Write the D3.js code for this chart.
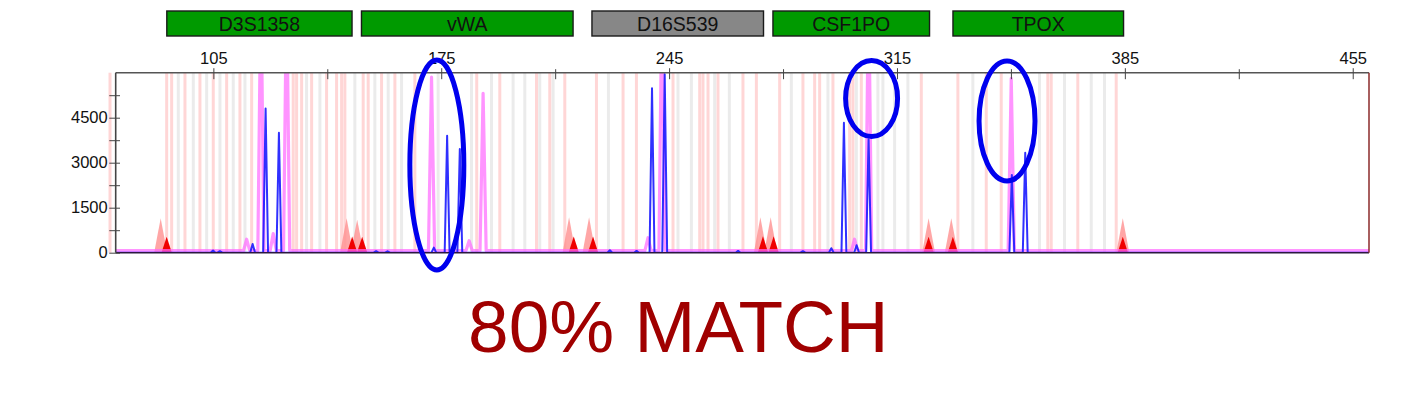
<!DOCTYPE html>
<html><head><meta charset="utf-8">
<script src="https://cdn.jsdelivr.net/npm/d3@7"></script>
<style>body{margin:0;background:#fff}svg{display:block}</style>
</head><body>
<svg id="c" width="1401" height="414"></svg>
<script>
// ---------------- DATA ----------------
const markerNames  = ["D3S1358", "vWA", "D16S539", "CSF1PO", "TPOX"];
const markerStart  = [90.7, 150.5, 221.3, 276.9, 332.2];
const markerEnd    = [147.6, 215.5, 274.0, 325.0, 384.6];
const markerStatus = ["pass", "pass", "check", "pass", "pass"];

const xTickLabels = [105, 175, 245, 315, 385, 455];
const xMinorTicks = [140, 210, 280, 350, 420];
const yTickLabels = [0, 1500, 3000, 4500];
const yMinorTicks = [750, 2250, 3750, 5250];

// allele bins (bp)
const pinkBins = [73.25, 90.66, 92.19, 96.28, 100.88, 104.97, 109.08, 113.16, 116.76, 129.53, 130.57,
  132.11, 135.18, 139.78, 142.85, 144.39, 145.4, 151.02, 152.56, 156.67, 160.76, 166.9, 185.9, 192.99,
  204.26, 208.34, 212.95, 222.68, 230.85, 234.96, 246.2, 254.4, 255.41, 256.95, 260.02, 267.69, 271.81,
  278.96, 286.11, 289.71, 291.24, 295.33, 300.45, 301.47, 304.05, 322.47, 333.71, 342.43, 347.03,
  361.34, 362.38, 370.55, 382.34];
const grayBins = [94.22, 98.83, 102.94, 107.02, 111.11, 114.7, 133.64, 137.73, 148.47, 154.61, 158.7,
  162.81, 174.05, 184.3, 190.44, 197.07, 200.67, 205.27, 209.36, 226.36, 247.74, 251.85, 259.0, 263.5,
  282.55, 293.79, 302.51, 309.14, 310.68, 314.27, 318.35, 338.31, 358.79, 366.47, 374.67, 378.75];

// sample trace (blue)
const bluePeakBp  = [104.9, 107.0, 117.06, 121.05, 125.14, 155.0, 158.5, 172.73, 176.81, 180.71,
  226.8, 235.0, 239.75, 243.65, 266.2, 286.1, 294.83, 298.7, 302.6, 306.28, 350.29, 354.4];
const bluePeakRfu = [70, 50, 290, 4810, 4000, 50, 45, 170, 3900, 3460,
  80, 60, 5480, 5950, 60, 50, 150, 4330, 250, 3780, 2590, 3330];

// reference trace (magenta)
const magPeakBp  = [115.22, 119.61, 123.39, 127.5, 172.02, 183.57, 187.86, 238.52, 242.82, 301.96, 306.28, 350.1];
const magPeakRfu = [450, 9000, 640, 9000, 5850, 400, 5310, 500, 9000, 450, 9000, 5810];

// ladder / size standard
const stdBp   = [88.82, 145.93, 149.18, 214.27, 220.41, 273.04, 276.2, 324.71, 331.68, 384.37];
const stdRfu  = [1150, 1150, 1100, 1180, 1180, 1180, 1180, 1150, 1150, 1150];
const ladBp   = [90.66, 147.64, 150.71, 215.71, 221.64, 273.83, 277.11, 324.71, 332.17, 384.37];
const ladRfu  = [530, 540, 530, 540, 540, 550, 550, 530, 530, 530];

// annotation ellipses (bp, rfu)
const annotBp   = [173.65, 307.2, 348.81];
const annotRfu  = [2923, 5140, 4390];
const annotRBp  = [8.29, 7.98, 8.6];
const annotRRfu = [3500, 1267, 2000];

const matchText = "80% MATCH";

// ---------------- CHART ----------------
const svg = d3.select("#c");
const font = "'Liberation Sans', Arial, Helvetica, sans-serif";
const x = d3.scaleLinear().domain([75, 460]).range([115.7, 1369]);
const y = d3.scaleLinear().domain([0, 6000]).range([252.7, 72.7]);
const [x0, x1] = x.range(), [yb, yt] = y.range();

svg.append("defs").append("clipPath").attr("id", "plot")
  .append("rect").attr("x", x0).attr("y", yt).attr("width", x1 - x0).attr("height", yb - yt);

// bins
const binG = svg.append("g");
binG.selectAll(".gb").data(grayBins).join("line")
  .attr("x1", d => x(d)).attr("x2", d => x(d)).attr("y1", yt).attr("y2", yb)
  .attr("stroke", "#ebebeb").attr("stroke-width", 3);
binG.selectAll(".pb").data(pinkBins).join("line")
  .attr("x1", d => x(d)).attr("x2", d => x(d)).attr("y1", yt).attr("y2", yb)
  .attr("stroke", "#ffd0d0").attr("stroke-width", 3).attr("opacity", 0.85);

const plot = svg.append("g").attr("clip-path", "url(#plot)");
const line = d3.line().x(d => x(d[0])).y(d => y(d[1]));

function tri(p, h, hw) { return [[p - hw, 0], [p, h], [p + hw, 0]]; }

// size standard triangles
plot.selectAll(".std").data(d3.range(stdBp.length)).join("path")
  .attr("d", i => line(tri(stdBp[i], stdRfu[i], 2.0)) + "Z")
  .attr("fill", "#ff9090").attr("opacity", 0.8);
plot.selectAll(".lad").data(d3.range(ladBp.length)).join("path")
  .attr("d", i => line(tri(ladBp[i], ladRfu[i], 1.6)) + "Z")
  .attr("fill", "#f00000");

function tracePts(bp, rfu, hw, base) {
  const idx = d3.range(bp.length).sort((a, b) => bp[a] - bp[b]);
  const pts = [[75, base]];
  idx.forEach(i => { pts.push([bp[i] - hw, base], [bp[i], rfu[i]], [bp[i] + hw, base]); });
  pts.push([460, base]);
  return pts;
}

// magenta trace
plot.append("path").attr("d", line(tracePts(magPeakBp, magPeakRfu, 0.95, 70)))
  .attr("fill", "none").attr("stroke", "#ff66ff").attr("stroke-width", 3.2)
  .attr("stroke-linejoin", "round").attr("opacity", 0.7);

// blue trace
plot.append("path").attr("d", line(tracePts(bluePeakBp, bluePeakRfu, 0.75, 0)))
  .attr("fill", "none").attr("stroke", "#1a1aff").attr("stroke-width", 2)
  .attr("stroke-linejoin", "round").attr("opacity", 0.9);

// baseline
svg.append("line").attr("x1", x0).attr("x2", x1).attr("y1", yb).attr("y2", yb)
  .attr("stroke", "#2b1840").attr("stroke-width", 1.6);

// frame
svg.append("line").attr("x1", x0).attr("x2", x1).attr("y1", yt).attr("y2", yt)
  .attr("stroke", "#555").attr("stroke-width", 1.6);
svg.append("line").attr("x1", x0).attr("x2", x0).attr("y1", yt).attr("y2", yb)
  .attr("stroke", "#444").attr("stroke-width", 1.6);
svg.append("line").attr("x1", x1).attr("x2", x1).attr("y1", yt).attr("y2", yb)
  .attr("stroke", "#8b2a2a").attr("stroke-width", 1.5);

// x axis (top)
const xa = svg.append("g").attr("transform", `translate(0,${yt})`)
  .call(d3.axisTop(x).tickValues(xTickLabels).tickFormat(d3.format("d")).tickSize(4.5).tickPadding(4.2).tickSizeOuter(0));
const xm = svg.append("g").attr("transform", `translate(0,${yt})`)
  .call(d3.axisTop(x).tickValues(xMinorTicks).tickSize(3.5).tickFormat("").tickSizeOuter(0));
[xa, xm].forEach(g => {
  g.select(".domain").remove();
  g.selectAll("line").attr("y1", 6.5).attr("stroke", "#444");
});
xa.attr("font-size", 16.5).attr("font-family", font);
xa.selectAll("text").attr("fill", "#111");

// y axis
const ya = svg.append("g").attr("transform", `translate(${x0},0)`)
  .call(d3.axisLeft(y).tickValues(yTickLabels).tickFormat(d3.format("d")).tickSize(6.4).tickPadding(1.6).tickSizeOuter(0));
const ym = svg.append("g").attr("transform", `translate(${x0},0)`)
  .call(d3.axisLeft(y).tickValues(yMinorTicks).tickSize(6.4).tickFormat("").tickSizeOuter(0));
[ya, ym].forEach(g => {
  g.select(".domain").remove();
  g.selectAll("line").attr("x1", 4.3).attr("stroke", "#444");
});
ya.attr("font-size", 16.5).attr("font-family", font);
ya.selectAll("text").attr("fill", "#111");

// marker boxes
const mg = svg.append("g");
const mIdx = d3.range(markerNames.length);
mg.selectAll("rect").data(mIdx).join("rect")
  .attr("x", i => x(markerStart[i])).attr("width", i => x(markerEnd[i]) - x(markerStart[i]))
  .attr("y", 11).attr("height", 25)
  .attr("fill", i => markerStatus[i] === "pass" ? "#009a00" : "#878787")
  .attr("stroke", "#1a1a1a").attr("stroke-width", 1.4);
mg.selectAll("text").data(mIdx).join("text")
  .attr("x", i => (x(markerStart[i]) + x(markerEnd[i])) / 2).attr("y", 31.2)
  .attr("text-anchor", "middle").attr("font-family", font).attr("font-size", 19.5)
  .attr("fill", "#111").text(i => markerNames[i]);

// annotation ellipses
svg.selectAll(".ann").data(d3.range(annotBp.length)).join("ellipse")
  .attr("cx", i => x(annotBp[i])).attr("cy", i => y(annotRfu[i]))
  .attr("rx", i => x(annotBp[i] + annotRBp[i]) - x(annotBp[i]))
  .attr("ry", i => y(0) - y(annotRRfu[i]))
  .attr("fill", "none").attr("stroke", "#0000ee").attr("stroke-width", 5);

// match text
svg.append("text").attr("x", 678.3).attr("y", 351.5).attr("text-anchor", "middle")
  .attr("font-family", font).attr("font-size", 73).attr("fill", "#a00000").text(matchText);
</script>
</body></html>
